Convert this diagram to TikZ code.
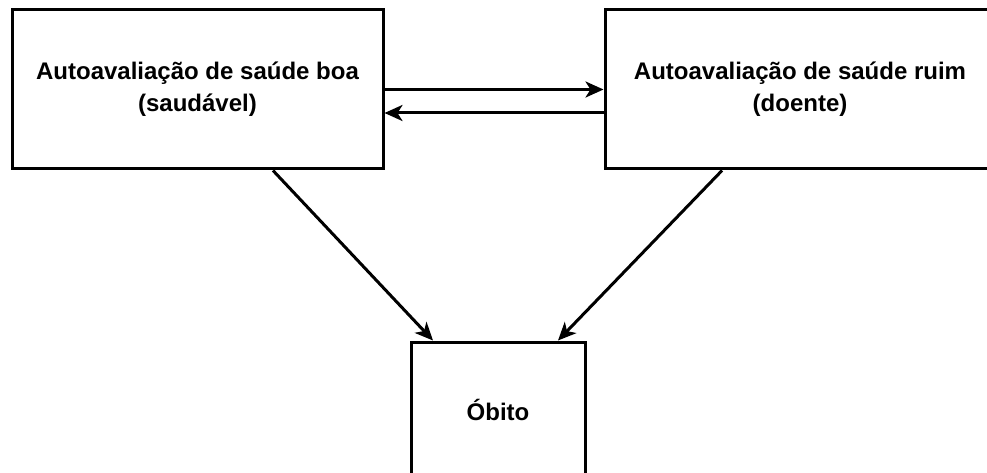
\documentclass[tikz,border=0pt]{standalone}
\usepackage{fontspec}
\setmainfont{Liberation Sans}
\usetikzlibrary{arrows.meta}
\begin{document}
\begin{tikzpicture}[x=1pt,y=-1pt,
  statebox/.style={draw=black,line width=3pt,fill=white,rectangle,align=center,
    font=\bfseries\fontsize{24}{32}\selectfont,inner sep=0pt},
  flow/.style={line width=3pt,-{Stealth[length=18pt,width=16pt,inset=5pt]}}]
  \useasboundingbox (0,0) rectangle (987,473);
  \fill[white] (0,0) rectangle (987,473);
  \node[statebox,minimum width=371pt,minimum height=159pt] (boa) at (197.5,89.5)
    {Autoavaliação de saúde boa\\(saudável)};
  \node[statebox,minimum width=390pt,minimum height=159pt] (ruim) at (800,89.5)
    {Autoavaliação de saúde ruim\\(doente)};
  \node[statebox,minimum width=174pt,minimum height=136pt] (obito) at (498,410)
    {Óbito};
  \draw[flow] (boa.east) -- (ruim.west);
  \draw[flow] ([yshift=-23.5pt]ruim.west) -- ([yshift=-23.5pt]boa.east);
  \draw[flow] ([xshift=75.5pt]boa.south) -- ([xshift=-65pt]obito.north);
  \draw[flow] ([xshift=-78pt]ruim.south) -- ([xshift=60pt]obito.north);
\end{tikzpicture}
\end{document}
